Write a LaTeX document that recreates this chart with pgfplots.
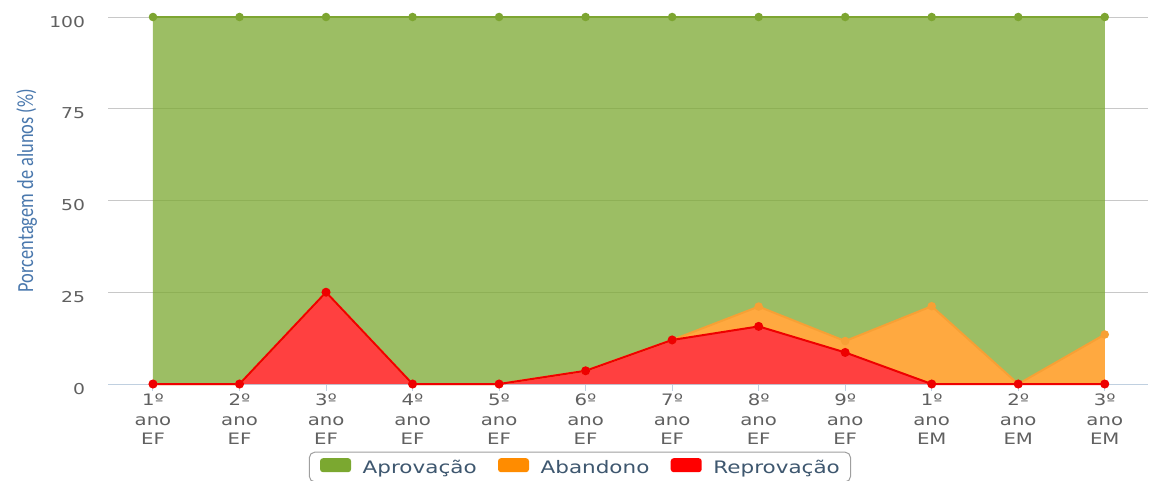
\documentclass[border=0pt]{standalone}
\usepackage{fontspec}
\setmainfont{DejaVu Sans}
\usepackage{pgfplots}
\usepackage{pgfplotstable}
\pgfplotsset{compat=1.18}
\newfontfamily\tickfont[FakeStretch=1.25]{DejaVu Sans}
\newfontfamily\ylabfont[FakeStretch=0.8]{Carlito}
\definecolor{aprov}{HTML}{7BA830}
\definecolor{aband}{HTML}{FF8C00}
\definecolor{reprov}{HTML}{FF0000}
\definecolor{aprovline}{HTML}{7DA531}
\definecolor{abandline}{HTML}{F7A035}
\definecolor{reprovline}{HTML}{EE0000}
\definecolor{gridc}{HTML}{C8C8C8}
\definecolor{axisc}{HTML}{C0D0E0}
\definecolor{tickc}{HTML}{606060}
\definecolor{ylabc}{HTML}{4A78AD}
\definecolor{legtext}{HTML}{3E576F}
% x: category index; rep: Reprovacao; aba: Abandono; apr: Aprovacao (percent)
% cum = rep + aba ; top = 100
\pgfplotstableread{
x rep aba apr cum top
0 0 0 100 0 100
1 0 0 100 0 100
2 25 0 75 25 100
3 0 0 100 0 100
4 0 0 100 0 100
5 3.6 0 96.4 3.6 100
6 12 0 88 12 100
7 15.7 5.4 78.9 21.1 100
8 8.6 3.1 88.3 11.7 100
9 0 21.2 78.8 21.2 100
10 0 0 100 0 100
11 0 13.5 86.5 13.5 100
}\data
\begin{document}
\begin{tikzpicture}
\useasboundingbox (-81pt,-72pt) rectangle (782.25pt,288pt);
\begin{axis}[
  scale only axis,
  width=780pt, height=275.25pt,
  xmin=-0.52, xmax=11.5,
  ymin=0, ymax=100,
  clip=false,
  axis x line*=bottom, axis y line*=left,
  y axis line style={draw=none},
  x axis line style={draw=axisc, line width=0.75pt},
  ytick={0,25,50,75,100},
  ymajorgrids,
  grid style={draw=gridc, line width=0.75pt},
  xtick={0,...,11},
  xticklabels={1º\\ano\\EF,2º\\ano\\EF,3º\\ano\\EF,4º\\ano\\EF,5º\\ano\\EF,6º\\ano\\EF,7º\\ano\\EF,8º\\ano\\EF,9º\\ano\\EF,1º\\ano\\EM,2º\\ano\\EM,3º\\ano\\EM},
  tick align=outside,
  major tick length=5pt,
  xtick style={draw=axisc, line width=0.75pt},
  ytick style={draw=none},
  xticklabel style={anchor=north, align=center, inner sep=0pt, yshift=-2.5pt, text=tickc, font=\tickfont\fontsize{11.8}{14.6}\selectfont},
  yticklabel style={anchor=east, inner sep=0pt, xshift=-12pt, yshift=-3.5pt, text=tickc, font=\tickfont\fontsize{11.25}{15}\selectfont},
  /pgf/number format/assume math mode=true,
  ylabel={Porcentagem de alunos (\%)},
  ylabel style={at={(axis description cs:-0.0783,0.527)}, anchor=center, inner sep=0pt, text=ylabc, font=\ylabfont\fontsize{17.25}{19}\selectfont},
  legend columns=3,
  legend style={at={(0.4538,-0.2262)}, anchor=center, draw=gray!75, line width=0.75pt, rounded corners=4pt,
    font=\tickfont\fontsize{12.9}{15}\selectfont, text=legtext, inner xsep=8pt, inner ysep=4.5pt,
    nodes={inner sep=0pt},
    /tikz/every even column/.append style={column sep=16pt}},
  legend image code/.code={\fill[#1, rounded corners=2.2pt] (0pt,-3pt) rectangle (23.25pt,7.5pt); \path (32pt,0pt);},
]
\addplot[stack plots=y, fill=reprov, fill opacity=0.75, draw=none, forget plot] table[x=x, y=rep]{\data} \closedcycle;
\addplot[stack plots=y, fill=aband, fill opacity=0.75, draw=none, forget plot] table[x=x, y=aba]{\data} \closedcycle;
\addplot[stack plots=y, fill=aprov, fill opacity=0.75, draw=none, forget plot] table[x=x, y=apr]{\data} \closedcycle;
\addplot[stack plots=false, draw=aprovline, line width=1.5pt, mark=*, mark size=2.4pt, mark options={draw=none, fill=aprovline}, forget plot] table[x=x, y=top]{\data};
\addplot[stack plots=false, draw=abandline, line width=1.5pt, mark=*, mark size=2.4pt, mark options={draw=none, fill=abandline}, forget plot] table[x=x, y=cum]{\data};
\addplot[stack plots=false, draw=reprovline, line width=1.5pt, mark=*, mark size=2.6pt, mark options={draw=none, fill=reprovline}, forget plot] table[x=x, y=rep]{\data};
\addlegendimage{fill=aprov, draw=none}
\addlegendentry{Aprovação}
\addlegendimage{fill=aband, draw=none}
\addlegendentry{Abandono}
\addlegendimage{fill=reprov, draw=none}
\addlegendentry{Reprovação}
\end{axis}
\end{tikzpicture}
\end{document}
